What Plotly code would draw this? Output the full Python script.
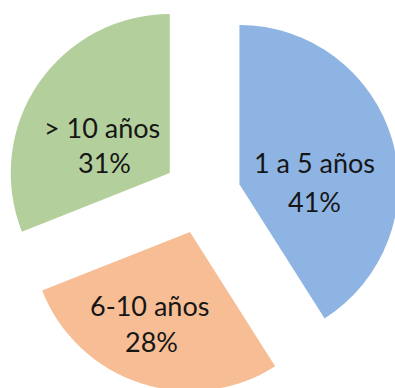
import plotly.graph_objects as go

# Distribución por antigüedad
categorias = ["1 a 5 años", "6-10 años", "> 10 años"]
porcentajes = [41, 28, 31]
colores = ["#8EB4E3", "#F7BE96", "#B3D09C"]

# Lienzo algo mayor que la ventana; se desplaza hacia arriba para recortar el borde
W, H, DESPLAZ = 404, 396, 3
# Posición en pantalla (px) de cada rótulo: línea de categoría y línea de porcentaje
pos_rotulos = [((314, 163), (314, 202)), ((149, 305), (151, 341)), ((102, 127), (104, 163))]

fig = go.Figure(
    go.Pie(
        labels=categorias,
        values=porcentajes,
        sort=False,
        direction="clockwise",
        rotation=0,
        pull=[0.245] * len(porcentajes),
        marker=dict(colors=colores, line=dict(width=0)),
        textinfo="none",
        hoverinfo="label+percent",
        domain=dict(x=[0, 1], y=[0, 1]),
    )
)

total = sum(porcentajes)
fuente = dict(family="Lato", size=27, color="#161616")
for cat, val, ((x1, y1), (x2, y2)) in zip(categorias, porcentajes, pos_rotulos):
    for texto, (x, y) in ((cat, (x1, y1)), (f"{round(100 * val / total)}%", (x2, y2))):
        fig.add_annotation(
            text=texto, x=x / W, y=1 - (y + DESPLAZ) / H, xref="paper", yref="paper",
            xanchor="center", yanchor="middle", showarrow=False, font=fuente,
        )

fig.update_layout(
    width=W,
    height=H,
    margin=dict(l=0, r=0, t=0, b=0),
    showlegend=False,
    paper_bgcolor="white",
    plot_bgcolor="white",
)

fig.write_html(
    "out.html",
    post_script=(
        "document.documentElement.style.overflow='hidden';"
        "document.body.style.overflow='hidden';document.body.style.margin='0';"
        f"document.querySelector('.plotly-graph-div').style.marginTop='-{DESPLAZ}px';"
    ),
)
